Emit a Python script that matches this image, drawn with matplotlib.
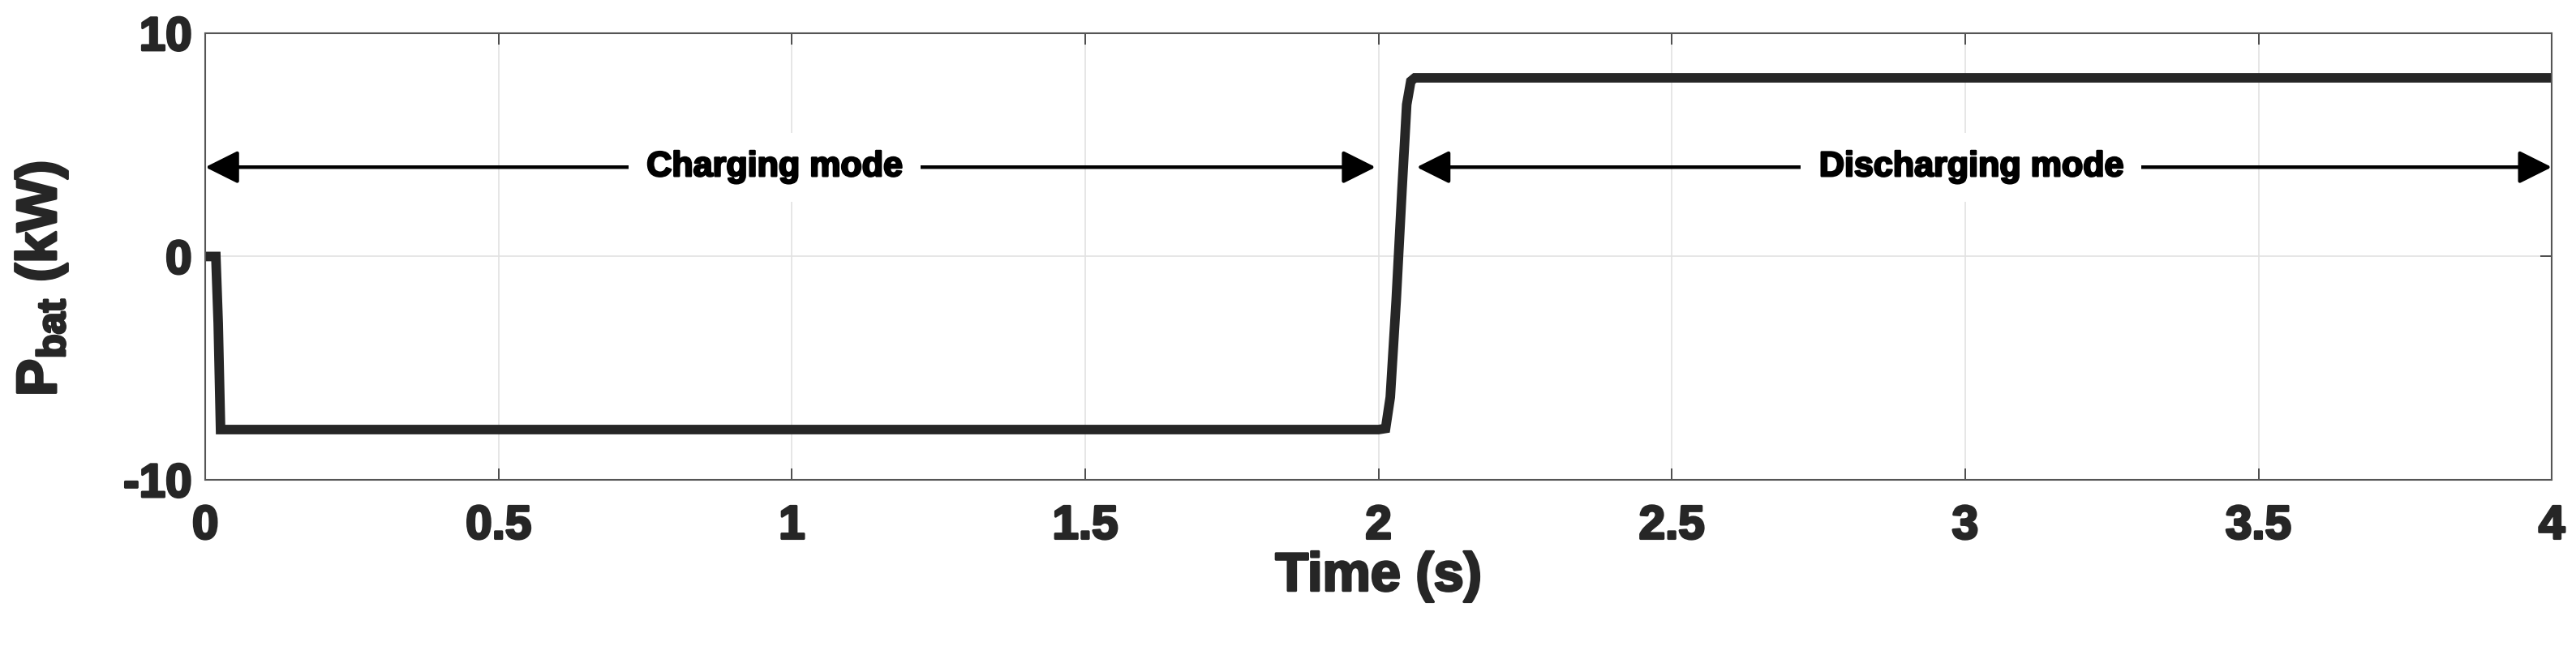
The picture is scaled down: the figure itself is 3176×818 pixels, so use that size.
import numpy as np
import matplotlib
matplotlib.use('Agg')
import matplotlib.pyplot as plt
import matplotlib.patheffects as pe

# battery power trace
t = [0.0, 0.018, 0.022, 0.026, 2.0, 2.012, 2.02, 2.03, 2.04, 2.048, 2.055, 2.062, 4.0]
p_bat = [0.0, 0.0, -3.0, -7.75, -7.75, -7.7, -6.3, -2.0, 3.0, 6.8, 7.85, 8.0, 8.0]

xticks = [0, 0.5, 1, 1.5, 2, 2.5, 3, 3.5, 4]
xticklabels = ['0', '0.5', '1', '1.5', '2', '2.5', '3', '3.5', '4']
yticks = [-10, 0, 10]
yticklabels = ['-10', '0', '10']

# mode arrows: (start, end, label x, label)
modes = [(0.0, 1.995, 0.97, 'Charging mode'),
         (2.065, 4.0, 3.01, 'Discharging mode')]
arrow_y = 4.0

plt.rcParams['font.family'] = ['Liberation Sans', 'DejaVu Sans']
plt.rcParams['font.weight'] = 'bold'
plt.rcParams['axes.unicode_minus'] = False
plt.rcParams['mathtext.fontset'] = 'custom'
plt.rcParams['mathtext.rm'] = 'Liberation Sans:bold'
plt.rcParams['mathtext.it'] = 'Liberation Sans:bold'
plt.rcParams['mathtext.bf'] = 'Liberation Sans:bold'

txt_col = '#262626'
heavy = [pe.withStroke(linewidth=2.2, foreground=txt_col)]

fig = plt.figure(figsize=(31.76, 8.18), dpi=100)
ax = fig.add_axes([0.0797, 0.2763, 0.9109, 0.6737])

ax.grid(True, color='#e2e2e2', linewidth=1.2)
ax.set_axisbelow(True)

ax.plot(t, p_bat, color='#262626', linewidth=8.5, solid_joinstyle='miter')

for x0, x1, xl, lab in modes:
    ax.annotate('', xy=(x0, arrow_y), xytext=(x1, arrow_y),
                arrowprops=dict(arrowstyle='<|-|>', mutation_scale=62, lw=3.2,
                                color='black', shrinkA=0, shrinkB=0))
    ax.text(xl, arrow_y, lab, ha='center', va='center', fontsize=31,
            fontweight='bold', color='black',
            path_effects=[pe.withStroke(linewidth=1.8, foreground='black')],
            bbox=dict(fc='white', ec='none', pad=16))

ax.set_xlim(0, 4)
ax.set_ylim(-10, 10)
ax.set_xticks(xticks)
ax.set_xticklabels(xticklabels)
ax.set_yticks(yticks)
ax.set_yticklabels(yticklabels)
ax.tick_params(direction='in', top=True, right=True, length=10, width=1.2,
               color='#333333', labelsize=42, labelcolor=txt_col)
ax.tick_params(axis='x', pad=22)
ax.tick_params(axis='y', pad=12)
for lbl in ax.get_xticklabels() + ax.get_yticklabels():
    lbl.set_path_effects(heavy)
for s in ax.spines.values():
    s.set_color('#555555')
    s.set_linewidth(1.5)

ax.set_xlabel('Time (s)', fontsize=48, fontweight='bold', color=txt_col,
              labelpad=3, path_effects=heavy)
ax.set_ylabel(r'P$_{\mathrm{bat}}$ (kW)', fontsize=50, fontweight='bold',
              color=txt_col, path_effects=heavy)
ax.yaxis.set_label_coords(-0.058, 0.45)

fig.savefig('out.png', dpi=100, facecolor='white')
